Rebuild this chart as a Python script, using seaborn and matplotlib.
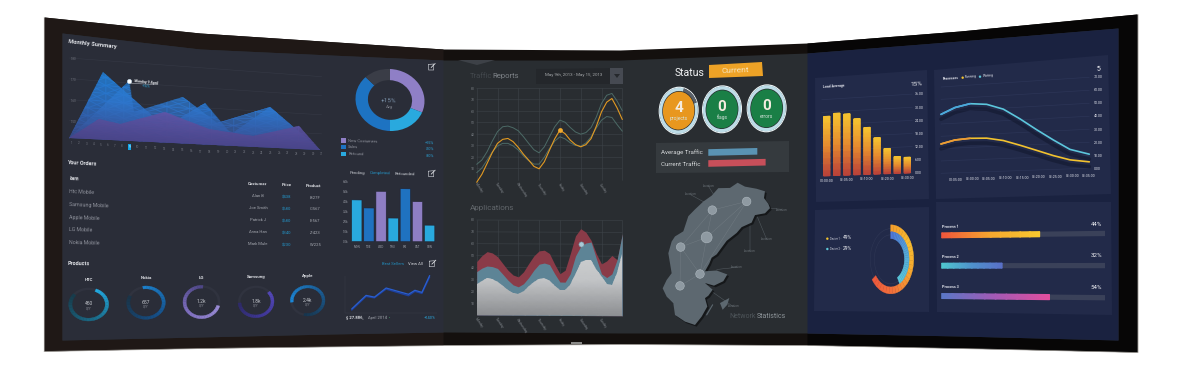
import numpy as np
import pandas as pd
import seaborn as sns
import matplotlib.pyplot as plt
import matplotlib.patheffects as pe
from matplotlib.artist import Artist
from matplotlib.collections import PathCollection
from matplotlib.colors import LinearSegmentedColormap
from matplotlib.patches import Polygon, Rectangle
from matplotlib.transforms import Transform

W, H = 1180, 370

# monitor outline, read in picture pixels
frame_x = [44, 200, 443, 620, 807, 960, 1137]
frame_top = [17, 33, 49, 50, 43, 31, 14]
frame_bottom = [351, 348, 345, 344, 345, 348, 352]
screen_x = [62, 200, 330, 443, 620, 807, 960, 1118]
screen_top = [33, 49, 55, 60, 60, 53, 41, 28]
screen_bottom = [340, 337, 334, 332, 333, 333, 336, 340]
FLAT_TOP, FLAT_BOTTOM = 60, 333

# monthly summary
day_numbers = list(range(0, 33))
day_scale = [70, 95, 117, 139, 160, 182, 203, 225, 246, 268, 292, 318, 346, 374, 401, 428, 455,
             480, 507, 534, 561, 587, 613, 639, 665, 691, 717, 743, 768, 794, 820, 845, 870]
summary_ticks = [1.5, 1.6, 1.7, 1.8]
summary_base = 1.415
area_a_day = [0.7, 5.3, 13, 17.6, 20.5, 25, 30.8]
area_a = [1.415, 1.749, 1.504, 1.640, 1.486, 1.631, 1.415]
area_b_day = [0.7, 9, 9.6, 15, 18.9, 25, 30.8]
area_b = [1.415, 1.720, 1.567, 1.663, 1.541, 1.631, 1.415]
area_c_day = [0.7, 4.8, 7.7, 13, 18, 23, 28.3, 30.8]
area_c = [1.415, 1.520, 1.504, 1.578, 1.509, 1.477, 1.538, 1.415]

# left column
summary_share = [0.31, 0.19, 0.375, 0.125]
summary_legend = ['New Costumers', 'Sales', 'Refound']
summary_delta = ['+15%', '-20%', '-30%']
order_items = ['Htc Mobile', 'Samsung Mobile', 'Apple Mobile', 'LG Mobile', 'Nokia Mobile']
order_names = ['Alan B', 'Joe Smith', 'Patrick J', 'Anna Han', 'Mark Mule']
order_prices = ['$438', '$680', '$680', '$340', '$230']
order_products = ['B-27F', 'C-567', 'E-567', 'Z-423', 'W-225']
week_days = ['MON', 'TUE', 'WED', 'THU', 'FRI', 'SAT', 'SUN']
week_sales = [4.2, 3.4, 5.1, 2.4, 5.4, 4.1, 1.7]
week_colors = ['#29a9de', '#1f72c0', '#8e7ec4', '#29a9de', '#1f72c0', '#8e7ec4', '#29a9de']
product_names = ['HTC', 'Nokia', 'LG', 'Samsung', 'Apple']
product_qty = ['450', '657', '1.2k', '1.8k', '2.4k']
product_share = [0.8, 0.85, 0.72, 0.6, 0.8]
seller_x = [0.73, 2.29, 3.2, 4.47, 6.9, 7.6, 8.36, 9.2]
seller_y = [1.1, 4.8, 4.3, 6.8, 5.0, 6.1, 5.5, 10.2]
seller_y2 = [0.8, 4.5, 4.1, 6.5, 4.6, 5.8, 5.2, 9.8]

# middle column
weekday_names = ['Monday', 'Tuesday', 'Wednesday', 'Thursday', 'Friday', 'Saturday', 'Sunday']
quarter_days = [0, .25, .5, .75, 1, 1.25, 1.5, 1.75, 2, 2.25, 2.5, 2.75, 3, 3.25, 3.5, 3.75, 4, 4.25, 4.5, 4.75, 5,
                5.25, 5.5, 5.75, 6, 6.25, 6.5, 6.75, 7]
traffic_upper = [13.7, 17.5, 24.7, 34, 42.2, 46.5, 47.1, 45.6, 43, 37.8, 32, 26.5, 23.8, 29, 37.8, 46.5, 52.3, 50.5,
                 45.9, 42, 40.1, 41.5, 45.9, 55, 66.9, 74, 75.6, 69, 60.5]
traffic_orange = [-2, 5, 14.5, 24, 32, 35.5, 36.3, 33.5, 28.5, 22.5, 17.4, 12, 9.9, 16, 26.2, 36, 43.6, 40.5, 34.9,
                  31, 29.1, 31, 36.3, 47, 59.6, 68, 71.2, 63, 52.9]
traffic_lower = [6.4, 10.5, 17.4, 24.5, 29.7, 32, 32, 29.8, 26.2, 21, 16.9, 14, 14, 20, 27.6, 34, 37.8, 36, 32.6,
                 30.3, 29.7, 32.5, 37.8, 45.5, 52.3, 55.5, 54.7, 48.5, 42.7]
apps_red = [45, 50, 53.4, 52.3, 49.2, 43.5, 37.9, 33.8, 32.3, 36.5, 43.5, 50, 54.2, 54.8, 52, 43, 35.1, 38, 52, 67,
            73, 70, 63.2, 52, 43.5, 46, 50.6, 47, 68.8]
apps_blue = [36.5, 39.5, 41.3, 40.8, 39.3, 34.5, 29.5, 25.5, 23.9, 26.5, 31.7, 38, 43, 44, 42.7, 35, 28.1, 28, 35.1,
             50, 58.1, 61, 61.8, 48, 35.1, 32, 35.1, 47, 68.8]
apps_gray = [26.1, 29, 30.9, 30, 28.1, 24.5, 21.1, 18.5, 17.7, 20, 24.4, 28, 30.9, 31, 28.9, 25, 21.6, 21, 25.3, 36,
             44.9, 47, 46.3, 39, 32.3, 26.5, 26.1, 36, 52]
status_values = ['4', '0', '0']
status_names = ['projects', 'flags', 'errors']
traffic_names = ['Average Traffic', 'Current Traffic']
traffic_levels = [75.4, 88.2]
map_x = [790, 815, 835, 870, 893, 915, 950, 975, 972, 985, 990, 975, 945, 935, 905, 890, 860, 845, 830, 815, 808, 795,
         830, 862, 850, 822, 795, 818, 805, 795, 802, 785, 765, 735, 705, 700, 680, 668, 680, 695, 690, 685, 695, 705,
         730, 745, 765]
map_y = [487, 470, 448, 448, 433, 445, 452, 460, 480, 497, 510, 525, 530, 552, 565, 582, 605, 625, 645, 655, 672, 695,
         693, 705, 725, 738, 730, 750, 768, 775, 800, 830, 855, 845, 825, 790, 770, 745, 720, 700, 670, 640, 605, 590,
         575, 530, 510]
island_x = [840, 868, 862, 848]
island_y = [790, 775, 795, 810]
node_x = [817, 920, 800, 722, 780, 720]
node_y = [513, 489, 594, 622, 703, 738]
node_links = [(0, 1), (0, 2), (1, 2), (2, 3), (2, 4), (3, 4), (3, 5), (4, 5), (0, 3), (1, 4)]
place_x = [805, 752, 1025, 980, 930, 890, 880]
place_y = [437, 462, 510, 598, 632, 680, 797]
place_from_x = [820, 795, 985, 950, 930, 830, 815]
place_from_y = [465, 490, 510, 530, 550, 690, 755]

# right column
load_clock = ['00:00:00', '', '01:05:00', '', '01:10:00', '', '01:20:00', '', '01:30:00']
load_average = [28, 29.2, 28.6, 26.1, 21.8, 16.8, 11.6, 7.7, 7.2]
load_ticks = [0, 6, 12, 18, 24, 30, 36]
process_clock = ['00:05:00', '01:00:00', '01:05:00', '01:10:00', '01:15:00', '01:20:00', '01:25:00', '01:30:00', '01:35:00']
process_ticks = [0, 10, 20, 30, 40, 50, 60, 70]
process_x = [-0.88, -0.04, 0.86, 1.86, 2.86, 3.86, 4.86, 5.86, 6.86, 8.02]
waiting = [47.8, 52.7, 55.1, 53.8, 49.2, 40.8, 31.6, 23, 15.1, 10.8]
running = [23.8, 26.5, 27.3, 26.8, 24.3, 20, 15.4, 10.8, 7, 4.9]
device_share = [0.65, 0.42]
process_names = ['Process 1', 'Process 2', 'Process 3']
process_fill = [60, 37, 66]
process_label = ['44%', '32%', '54%']

sns.set_theme(style='dark', rc={'axes.facecolor': 'none', 'figure.facecolor': 'white'})
plt.rcParams['font.family'] = ['Roboto', 'DejaVu Sans']

fig = plt.figure(figsize=(W / 100, H / 100), dpi=100)


def edge_top(x):
    return np.interp(x, screen_x, screen_top)


def edge_bottom(x):
    return np.interp(x, screen_x, screen_bottom)


def flat_y(x, y):
    return FLAT_TOP + (y - edge_top(x)) / (edge_bottom(x) - edge_top(x)) * (FLAT_BOTTOM - FLAT_TOP)


class ScreenWarp(Transform):
    # bends flat screen pixels onto the curved panel
    input_dims = 2
    output_dims = 2

    def transform_non_affine(self, values):
        values = np.asarray(values, dtype=float)
        x = values[:, 0]
        t = (H - values[:, 1] - FLAT_TOP) / (FLAT_BOTTOM - FLAT_TOP)
        y = edge_top(x) + t * (edge_bottom(x) - edge_top(x))
        return np.column_stack([x, H - y])


warp = ScreenWarp()
keep_clip = []


def bend(artist):
    artist.set_transform(Artist.get_transform(artist) + warp)
    if artist not in keep_clip:
        artist.set_clip_on(False)


def bend_axes(ax):
    for artist in list(ax.lines) + list(ax.patches) + list(ax.texts):
        bend(artist)
    for coll in ax.collections:
        if isinstance(coll, PathCollection):
            coll.set_offset_transform(coll.get_offset_transform() + warp)
            coll.set_clip_on(False)
        else:
            bend(coll)
    for axis in (ax.xaxis, ax.yaxis):
        for tick in axis.get_major_ticks():
            for part in (tick.label1, tick.label2, tick.tick1line, tick.tick2line, tick.gridline):
                bend(part)
                part.set_clip_on(False)


def panel(x0, x1, y0, y1):
    top, bottom = flat_y(x0, y0), flat_y(x0, y1)
    ax = fig.add_axes([x0 / W, 1 - bottom / H, (x1 - x0) / W, (bottom - top) / H], zorder=2)
    ax.patch.set_visible(False)
    for spine in ax.spines.values():
        spine.set_visible(False)
    ax.tick_params(length=0, labelsize=2.6, pad=1.5, labelcolor='#9a9da6')
    return ax


def ring_panel(cx, cy, rx, ry):
    fy = flat_y(cx, cy)
    ry = ry * (FLAT_BOTTOM - FLAT_TOP) / (edge_bottom(cx) - edge_top(cx))
    ax = fig.add_axes([(cx - rx) / W, 1 - (fy + ry) / H, 2 * rx / W, 2 * ry / H], zorder=2)
    ax.patch.set_visible(False)
    return ax


def finish_ring(ax):
    ax.set_aspect('auto')
    ax.set_xlim(-1, 1)
    ax.set_ylim(-1, 1)
    bend_axes(ax)


def ring(ax, share, colors, start=90, radius=1.0, width=0.2, steps=28):
    cmap = LinearSegmentedColormap.from_list('ring', colors)
    sizes = [share / steps] * steps + [max(1 - share, 0)]
    shades = [cmap(i / (steps - 1)) for i in range(steps)] + [(0, 0, 0, 0)]
    wedges = ax.pie(sizes, colors=shades, startangle=start, counterclock=False, radius=radius,
                    wedgeprops={'width': width, 'linewidth': 0.25})[0]
    for wedge, shade in zip(wedges, shades):
        wedge.set_edgecolor(shade)


def gradient(ax, x0, x1, y0, y1, colors, vertical=True, alpha=1.0, clip=None, zorder=3):
    cmap = LinearSegmentedColormap.from_list('fade', colors)
    if vertical:
        xs, ys = np.linspace(x0, x1, 13), np.linspace(y0, y1, 11)
        cells = np.tile(np.linspace(0, 1, 11)[:, None], (1, 13))
    else:
        xs, ys = np.linspace(x0, x1, 11), [y0, y1]
        cells = np.tile(np.linspace(0, 1, 11), (2, 1))
    mesh = ax.pcolormesh(xs, ys, cells, cmap=cmap, shading='gouraud', alpha=alpha, zorder=zorder)
    if clip is not None:
        shape = Polygon(clip, closed=True, transform=ax.transData + warp)
        mesh.set_clip_path(shape)
        mesh.set_clip_box(None)
        keep_clip.append(mesh)
    return mesh


bg = fig.add_axes([0, 0, 1, 1], zorder=0)
fg = fig.add_axes([0, 0, 1, 1], zorder=5)
for layer in (bg, fg):
    layer.set_xlim(0, W)
    layer.set_ylim(H, 0)
    layer.axis('off')
    layer.patch.set_visible(False)

# monitor body
xs = np.arange(44, 1138)
f_top, f_bot = np.interp(xs, frame_x, frame_top), np.interp(xs, frame_x, frame_bottom)
bg.fill_between(xs, f_top, f_bot, color='#14100e', lw=0)
bg.fill_between(xs, f_top, f_bot, where=xs <= 443, color='#1f1816', lw=0)
bg.fill_between(xs, f_top, f_bot, where=xs >= 807, color='#070606', lw=0)
bg.plot(xs, f_bot + 0.5, color='#a5a29d', lw=0.5)
bg.plot([44, 44], [17, 351], color='#d8d5d0', lw=0.3)
bg.plot([1137.5, 1137.5], [14, 352], color='#c8c4bf', lw=0.5)
sx = np.arange(62, 1119)
s_top, s_bot = edge_top(sx), edge_bottom(sx)
bg.fill_between(sx, s_top, s_bot, color='#292d31', lw=0)
bg.fill_between(sx, s_top, s_bot, where=sx <= 443, color='#2a2d38', lw=0)
bg.fill_between(sx, s_top, s_bot, where=sx >= 807, color='#1a2240', lw=0)
bg.fill([458, 495, 477], [60, 60, 65], color='#3d4147', lw=0)
bg.fill([571, 582, 582, 571], [342, 342, 344, 344], color='#8a8a88', lw=0)

for cx, cy in [([815, 927, 929, 816], [78, 70, 199, 202]),
               ([934, 1108, 1111, 936], [70, 55, 194, 199]),
               ([815, 929, 929, 814], [210, 207, 312, 311]),
               ([936, 1111, 1112, 937], [202, 202, 315, 312])]:
    bg.fill(cx, cy, color='#222a49', lw=0)
bg.fill([656, 789, 789, 656], [143, 141, 172, 173], color='#353a3e', lw=0)
bg.fill([536, 623, 623, 536], [69, 68, 84, 84], color='#24272b', lw=0)
bg.fill([610, 623, 623, 610], [68, 68, 84, 84], color='#464a52', lw=0)
bg.fill([614, 620, 617], [74, 74, 78], color='#25282c', lw=0)
bg.fill([709, 762, 763, 709], [65, 62, 76, 78], color='#eda226', lw=0)

ORIGIN = {1: (40, 20), 2: (440, 40), 3: (800, 10)}


def tilt_at(x, y):
    t = (y - edge_top(x)) / (edge_bottom(x) - edge_top(x))
    y0 = edge_top(x - 6) + t * (edge_bottom(x - 6) - edge_top(x - 6))
    y1 = edge_top(x + 6) + t * (edge_bottom(x + 6) - edge_top(x + 6))
    return -np.degrees(np.arctan2(y1 - y0, 12))


def note(zone, zx, zy, text, size=3.3, color='#c9ccd2', ha='left', weight='normal', rotation=None):
    x = ORIGIN[zone][0] + zx / 3
    y = ORIGIN[zone][1] + zy / 3
    angle = tilt_at(x, y) if rotation is None else rotation
    return fg.text(x, y, text, fontsize=size, color=color, ha=ha, va='center', fontweight=weight,
                   rotation=angle, rotation_mode='anchor')


def edit_icon(zone, zx, zy):
    x = ORIGIN[zone][0] + zx / 3
    y = ORIGIN[zone][1] + zy / 3
    fg.plot([x - 3, x + 2, x + 2, x - 3, x - 3], [y - 2.5, y - 3, y + 3, y + 3, y - 2.5], color='#b9bcc3', lw=0.5)
    fg.plot([x - 0.5, x + 3.5], [y + 0.5, y - 3.5], color='#e0e2e6', lw=0.6)


# monthly summary areas
ax = panel(69.3, 321.7, 58, 138.3)
ax.set_xscale('function', functions=(lambda d: np.interp(d, day_numbers, day_scale),
                                     lambda p: np.interp(p, day_scale, day_numbers)))
for days, values, colors, alpha in [(area_a_day, area_a, ['#3a4a8c', '#2a72c8', '#1f84dc'], 0.85),
                                    (area_b_day, area_b, ['#3a4a8c', '#2f76cc', '#1f84dc'], 0.75),
                                    (area_c_day, area_c, ['#4a4488', '#6058ac', '#6d64bc'], 0.92)]:
    sns.lineplot(x=days, y=values, ax=ax, color=colors[-1], lw=0.2, alpha=0.5, errorbar=None)
    shape = np.column_stack([days, values])
    gradient(ax, 0.7, 30.8, summary_base, 1.8, colors, alpha=alpha, clip=shape)
sns.scatterplot(x=[9], y=[1.72], ax=ax, color='white', s=9, edgecolor='#cfe6f7', linewidth=0.4, zorder=6)
ax.set_xlim(0.7, 31)
ax.set_ylim(summary_base, 1.8)
ax.set_xticks(range(1, 32), labels=[str(d) for d in range(1, 32)])
ax.set_yticks(summary_ticks, labels=[f'{v:.2f}' for v in summary_ticks])
ax.tick_params(labelsize=2.2, labelcolor='#70737d')
ax.tick_params(axis='y', pad=-5)
ax.set_xlabel('')
ax.grid(axis='y', color='#353945', lw=0.4)
ax.set_axisbelow(True)
ax.get_xticklabels()[8].set_bbox(dict(facecolor='#12a3e6', edgecolor='none', pad=0.8))
ax.get_xticklabels()[8].set_color('white')
bend_axes(ax)

note(1, 85, 64, 'Monthly Summary', size=4.2, weight='bold', color='#dfe1e6')
note(1, 282, 182, 'Monday 9 April', size=2.5, weight='bold', color='#e6e8ec')
note(1, 318, 198, '+16%', size=2.5, color='#2aa7dc', ha='center')
fg.plot([131, 158], [83.5, 84.5], color='#cfd2d8', lw=0.3)

# donut
ax = ring_panel(390, 100, 34.5, 31)
ax.pie(summary_share, colors=['#8f7fc6', '#29a9de', '#1d73c2', '#3a3d47'], startangle=90, counterclock=False,
       wedgeprops={'width': 0.36, 'linewidth': 0})
finish_ring(ax)
note(1, 1047, 243, '+15%', size=4.6, color='#7c93ab', ha='center')
note(1, 1047, 260, 'Avg', size=3, color='#8b8e98', ha='center')
edit_icon(1, 1175, 141)
for zy, label_text, delta, color in zip([361, 381, 401], summary_legend, summary_delta, ['#8f7fc6', '#1d73c2', '#29a9de']):
    fg.add_patch(Rectangle((40 + 904 / 3, 20 + (zy - 6) / 3), 4.3, 4.3, color=color, lw=0))
    note(1, 925, zy + 1, label_text, size=3, color='#8d909a')
    note(1, 1182, zy + 8, delta, size=2.8, color='#2aa7dc', ha='right')

# orders table
note(1, 82, 428, 'Your Orders', size=4, weight='bold', color='#dfe1e6')
note(1, 88, 476, 'Item', size=3.3, weight='bold', color='#dfe1e6')
for zy, item in zip([515, 553, 592, 630, 668], order_items):
    note(1, 88, zy, item, size=3.8, color='#8f929c')
note(1, 653, 493, 'Costumer', size=3.2, weight='bold', color='#dfe1e6', ha='center')
note(1, 740, 495, 'Price', size=3.2, weight='bold', color='#dfe1e6', ha='center')
note(1, 822, 497, 'Product', size=3.2, weight='bold', color='#dfe1e6', ha='center')
for i in range(5):
    note(1, 654, 528 + i * 36.2, order_names[i], size=3, color='#a5a8b0', ha='center')
    note(1, 740, 531 + i * 35.5, order_prices[i], size=3, color='#2397cc', ha='center')
    note(1, 826, 533 + i * 35.5, order_products[i], size=3, color='#a5a8b0', ha='center')

# week bars
note(1, 953, 458, 'Pending', size=3.1, ha='center')
note(1, 1020, 460, 'Completed', size=3.1, color='#2596c8', ha='center')
note(1, 1096, 462, 'Refounded', size=3.1, ha='center')
edit_icon(1, 1175, 461)
ax = panel(350.7, 435.7, 182, 243)
sns.barplot(x=week_days, y=week_sales, hue=week_days, palette=week_colors, legend=False, ax=ax, width=0.85,
            saturation=1, edgecolor='#202230', linewidth=0.4)
ax.set_xlim(-0.5, 6.5)
ax.set_ylim(-0.15, 6)
ax.set_yticks(range(7), labels=[f'{v}.0k' for v in range(7)])
ax.tick_params(labelsize=2.2)
bend_axes(ax)

# products
note(1, 84, 730, 'Products', size=4, weight='bold', color='#dfe1e6')
note(1, 1060, 732, 'Best Sellers', size=3, color='#2391c2', ha='center')
note(1, 1126, 732, 'View All', size=3, color='#d6d8dd', ha='center')
edit_icon(1, 1177, 731)
ring_specs = [(146, 853, 60, 50, 68, ['#22a9e0', '#1a6b88', '#173c4c']),
              (318, 848, 58, 50, 100, ['#1b80cc', '#154f88', '#1a3448']),
              (485, 846, 56, 50, -15, ['#9a8cd6', '#7f6fc0', '#4f4788']),
              (648, 845, 54, 48, 40, ['#5448ba', '#40379a', '#2e2a6a']),
              (803, 842, 52, 46, 185, ['#1b86d6', '#1a5d96', '#17364f'])]
for spec, name, qty, share in zip(ring_specs, product_names, product_qty, product_share):
    zx, zy, rx, ry, start, colors = spec
    ax = ring_panel(40 + zx / 3, 20 + zy / 3, rx / 3, ry / 3)
    ax.pie([1], colors=['#30333f'], radius=1, wedgeprops={'width': 0.14, 'linewidth': 0})
    ring(ax, share, colors, start=start, width=0.17)
    finish_ring(ax)
    note(1, zx, zy - 2, qty, size=3.6, color='#c4c7cd', ha='center')
    note(1, zx, zy + 12, 'QTY', size=2.2, color='#8d909a', ha='center')
    note(1, zx, zy - 73, name, size=3.2, weight='bold', color='#dfe1e6', ha='center')

ax = panel(345, 437, 276, 313)
sns.lineplot(x=seller_x, y=seller_y2, ax=ax, color='#1d3f9e', lw=1.0, errorbar=None)
sns.lineplot(x=seller_x, y=seller_y, ax=ax, color='#2a5fd0', lw=0.9, errorbar=None)
ax.set_xlim(0, 10)
ax.set_ylim(0, 10.2)
ax.set_xticks([])
ax.set_yticks([])
ax.spines['left'].set_visible(True)
ax.spines['bottom'].set_visible(True)
ax.spines['left'].set_color('#3a3e4a')
ax.spines['bottom'].set_color('#3a3e4a')
ax.spines['left'].set_linewidth(0.3)
ax.spines['bottom'].set_linewidth(0.3)
bend_axes(ax)
note(1, 918, 893, '$ 27.886,', size=3, weight='bold', color='#dfe1e6')
note(1, 985, 893, 'April 2014', size=3, color='#a5a8b0')
note(1, 1047, 894, '•', size=3, color='#3fb56a', ha='center')
note(1, 1186, 893, '+140%', size=2.9, color='#2aa7dc', ha='right')


def day_grid(ax):
    ax.set_xlim(0, 7)
    ax.set_ylim(0, 80)
    ax.set_xticks(range(8), labels=weekday_names + [''])
    ax.set_yticks(range(10, 90, 10), labels=[str(v) for v in range(10, 90, 10)])
    ax.grid(True, color='#3e4449', lw=0.4)
    ax.set_axisbelow(True)
    ax.set_xlabel('')
    ax.tick_params(labelsize=2.4, labelcolor='#7b8086', pad=1.5)
    for tick_label in ax.get_xticklabels():
        tick_label.set_rotation(-55)
        tick_label.set_ha('left')
        tick_label.set_rotation_mode('anchor')


# traffic reports
note(2, 90, 108, 'Traffic', size=5.5, color='#43484d', rotation=0)
note(2, 156, 108, 'Reports', size=5.5, color='#7e8388', rotation=0)
note(2, 400, 106, 'May 9th, 2013 - May 15, 2013', size=3.2, color='#a4a7aa', ha='center', rotation=0)
ax = panel(476.7, 622.3, 88.3, 180)
for values, color, width in [(traffic_upper, '#4c6a66', 0.7), (traffic_lower, '#4c6a66', 0.7), (traffic_orange, '#e29a22', 0.8)]:
    sns.lineplot(x=quarter_days, y=values, ax=ax, color=color, lw=width, errorbar=None)
sns.scatterplot(x=[quarter_days[16]], y=[traffic_orange[16]], ax=ax, color='#f0a92e', s=12, linewidth=0, zorder=6)
day_grid(ax)
bend_axes(ax)

# applications
note(2, 88, 503, 'Applications', size=5.8, color='#61666b', rotation=0)
ax = panel(476.7, 622.3, 220, 315)
ax.fill_between(quarter_days, apps_red, color='#8a3b48', lw=0, zorder=3)
ax.fill_between(quarter_days, apps_blue, color='#5d8496', lw=0, zorder=3.1)
shape = np.column_stack([[0] + quarter_days + [7], [0] + apps_gray + [0]])
gradient(ax, 0, 7, 0, 60, ['#8d8f92', '#c2c4c6', '#cfd1d2'], clip=shape, zorder=3.2)
sns.scatterplot(x=[5], y=[60.5], ax=ax, color='#a9c9d6', edgecolor='#6d8e9d', s=14, linewidth=0.4, zorder=6)
day_grid(ax)
bend_axes(ax)

# status block
note(2, 705, 98, 'Status', size=7.6, color='#f2f3f4', rotation=0)
note(2, 885, 91, 'Current', size=6, color='#f7e6c0', ha='center', rotation=2)
status_specs = [(716, 212, '#e8971e', 0.85), (846, 208, '#1a7f46', 1.0), (980, 205, '#1a7f46', 1.0)]
for spec, value, name in zip(status_specs, status_values, status_names):
    zx, zy, fill, level = spec
    ax = ring_panel(440 + zx / 3, 40 + zy / 3, 20, 24)
    ax.pie([1], colors=['#f2f6f7'], radius=1, wedgeprops={'width': 0.05, 'linewidth': 0})
    ax.pie([level, 1 - level], colors=['#bddde8', '#5a6068'], startangle=20, counterclock=False, radius=0.96,
           wedgeprops={'width': 0.14, 'linewidth': 0})
    ax.pie([1], colors=[fill], radius=0.79, wedgeprops={'linewidth': 0})
    finish_ring(ax)
    note(2, zx, zy - 8, value, size=11, color='#f4ece0', ha='center', weight='bold', rotation=0)
    note(2, zx, zy + 23, name, size=3.6, color='#d7e4dc', ha='center', rotation=0)

note(2, 664, 337, traffic_names[0], size=4.4, color='#d5d8da', rotation=0)
note(2, 664, 374, traffic_names[1], size=4.4, color='#d5d8da', rotation=0)
ax = panel(708.3, 773.3, 147, 169)
sns.barplot(y=traffic_names, x=traffic_levels, hue=traffic_names, palette=['#5a93b3', '#c74f5a'], legend=False, ax=ax,
            width=0.6, saturation=1, linewidth=0)
ax.set_xlim(0, 100)
ax.set_xticks([])
ax.set_yticks([])
ax.set_xlabel('')
ax.set_ylabel('')
bend_axes(ax)

# network map
ax = panel(660, 773.3, 183.3, 330)
for x0, y0, x1, y1 in zip(place_from_x, place_from_y, place_x, place_y):
    ax.plot([x0, x1], [y0, y1 + 4], color='#565e64', lw=0.35, zorder=1.5)
outline = ax.fill(map_x, map_y, color='#5d6870', lw=0, zorder=2)[0]
outline.set_path_effects([pe.SimplePatchShadow(offset=(1.2, -1.2), shadow_rgbFace='#101214', alpha=0.8), pe.Normal()])
ax.fill(island_x, island_y, color='#5d6870', lw=0, zorder=2)
ax.plot([800, 818], [825, 795], color='#5d6870', lw=0.8, zorder=2)
for start, end in node_links:
    ax.plot([node_x[start], node_x[end]], [node_y[start], node_y[end]], color='#737d84', lw=0.3, zorder=3)
sns.scatterplot(x=node_x, y=node_y, ax=ax, color='#8f9aa2', edgecolor='#aeb8bf', s=[38, 38, 62, 38, 38, 38],
                linewidth=0.4, zorder=4, legend=False)
ax.set_xlim(660, 1000)
ax.set_ylim(870, 430)
ax.set_xticks([])
ax.set_yticks([])
ax.set_xlabel('')
ax.set_ylabel('')
bend_axes(ax)
for px, py in zip(place_x, place_y):
    note(2, px, py, 'Location', size=2.2, color='#6d747a', ha='center', rotation=0)
note(2, 868, 828, 'Network', size=5, color='#4d5459', rotation=0)
note(2, 950, 828, 'Statistics', size=5, color='#8d9499', rotation=0)

# load average
note(3, 68, 230, 'Load Average', size=2.5, weight='bold', color='#e6e8f0')
note(3, 350, 222, '15%', size=4.6, color='#f0f1f5', ha='center')
ax = panel(821.7, 912.3, 99.7, 176)
sns.barplot(x=list(range(9)), y=load_average, ax=ax, color='#d08030', width=0.62, saturation=1, linewidth=0)
ax.set_xlim(-0.5, 8.5)
ax.set_ylim(0, 36)
for bar in list(ax.patches):
    gradient(ax, bar.get_x(), bar.get_x() + bar.get_width(), 0, bar.get_height(), ['#b9403a', '#e58a2f', '#f6c52f'])
ax.set_xlim(-0.5, 8.5)
ax.set_ylim(0, 36)
ax.set_xticks(range(9), labels=load_clock)
ax.yaxis.tick_right()
ax.set_yticks(load_ticks, labels=[f'{v:.2f}' for v in load_ticks])
ax.grid(axis='y', color='#2c3557', lw=0.5)
ax.set_axisbelow(True)
ax.tick_params(labelsize=2.5, labelcolor='#e4e6ee', pad=2, length=0)
bend_axes(ax)

# processes
note(3, 427, 208, 'Processes', size=2.4, weight='bold', color='#e6e8f0')
note(3, 495, 202, 'Running', size=2.4, color='#d9dbe4')
note(3, 548, 199, 'Waiting', size=2.4, color='#d9dbe4')
note(3, 895, 178, '5', size=5, color='#f0f1f5', ha='center')
fg.scatter([800 + 488 / 3, 800 + 540 / 3], [10 + 203 / 3, 10 + 200 / 3], s=3, color=['#f5c52e', '#5cc8d8'], linewidth=0)
ax = panel(941, 1089.3, 87, 173.3)
shadow = [pe.SimpleLineShadow(offset=(0, -3.5), shadow_color='#11162c', alpha=0.55, linewidth=2.6), pe.Normal()]
sns.lineplot(x=process_x, y=waiting, ax=ax, color='#5cc6dc', lw=1.2, errorbar=None, path_effects=shadow)
sns.lineplot(x=process_x, y=running, ax=ax, color='#f2c22f', lw=1.2, errorbar=None, path_effects=shadow)
sns.lineplot(x=process_x[:3], y=waiting[:3], ax=ax, color='#4aa6dc', lw=1.2, errorbar=None)
sns.lineplot(x=process_x[:3], y=running[:3], ax=ax, color='#ee9a35', lw=1.2, errorbar=None)
ax.set_xlim(-0.88, 8.02)
ax.set_ylim(0, 70)
ax.set_xticks(range(9), labels=process_clock)
ax.yaxis.tick_right()
ax.set_yticks(process_ticks, labels=[f'{v:.2f}' for v in process_ticks])
ax.grid(axis='y', color='#2c3557', lw=0.5)
ax.set_axisbelow(True)
ax.tick_params(labelsize=2.5, labelcolor='#e4e6ee', pad=3.5, length=0)
bend_axes(ax)

# devices
ax = ring_panel(800 + 272 / 3, 10 + 748 / 3, 23, 34.5)
ax.pie([1], colors=['#2f3755'], radius=0.9, wedgeprops={'width': 0.02, 'linewidth': 0})
ax.pie([1], colors=['#2f3755'], radius=0.72, wedgeprops={'width': 0.02, 'linewidth': 0})
ring(ax, device_share[0], ['#f59f2c', '#f8bd2f', '#f6a52f', '#f3723a', '#ee5a3c'], radius=1, width=0.2)
ring(ax, device_share[1], ['#4f78d8', '#55a8d8', '#5ac8dc'], radius=0.8, width=0.2)
finish_ring(ax)
fg.scatter([800 + 82 / 3, 800 + 82 / 3], [10 + 686 / 3, 10 + 717 / 3], s=3, color=['#f5c52e', '#5cc8d8'], linewidth=0)
note(3, 90, 686, 'Device 1 -', size=1.9, color='#d9dbe4')
note(3, 129, 684, '49%', size=3.6, color='#f0f1f5')
note(3, 90, 717, 'Device 2 -', size=1.9, color='#d9dbe4')
note(3, 129, 715, '29%', size=3.6, color='#f0f1f5')

# process bars
ax = panel(941.7, 1105, 220.2, 311.2)
sns.barplot(y=process_names, x=[100, 100, 100], ax=ax, color='#3a4159', width=0.165, saturation=1, linewidth=0)
ax.set_xlim(0, 100)
bar_colors = [['#f0563c', '#f6a82f', '#f7c92f'], ['#4fc8cf', '#4f92cc', '#5a70c8'], ['#5a78c8', '#a55ab5', '#e34f9e']]
for bar, fill, colors in zip(list(ax.patches), process_fill, bar_colors):
    gradient(ax, 0, fill, bar.get_y(), bar.get_y() + bar.get_height(), colors, vertical=False)
ax.set_xlim(0, 100)
ax.set_ylim(2.5, -0.5)
ax.set_xticks([])
ax.set_yticks([])
ax.set_xlabel('')
ax.set_ylabel('')
bend_axes(ax)
for name, zy, value, zv in zip(process_names, [650, 740, 830], process_label, [643, 737, 833]):
    note(3, 427, zy, name, size=2.7, weight='bold', color='#e6e8f0')
    note(3, 890, zv, value, size=4.4, color='#f0f1f5', ha='center')

fig.savefig('out.png', dpi=100, facecolor='white')
